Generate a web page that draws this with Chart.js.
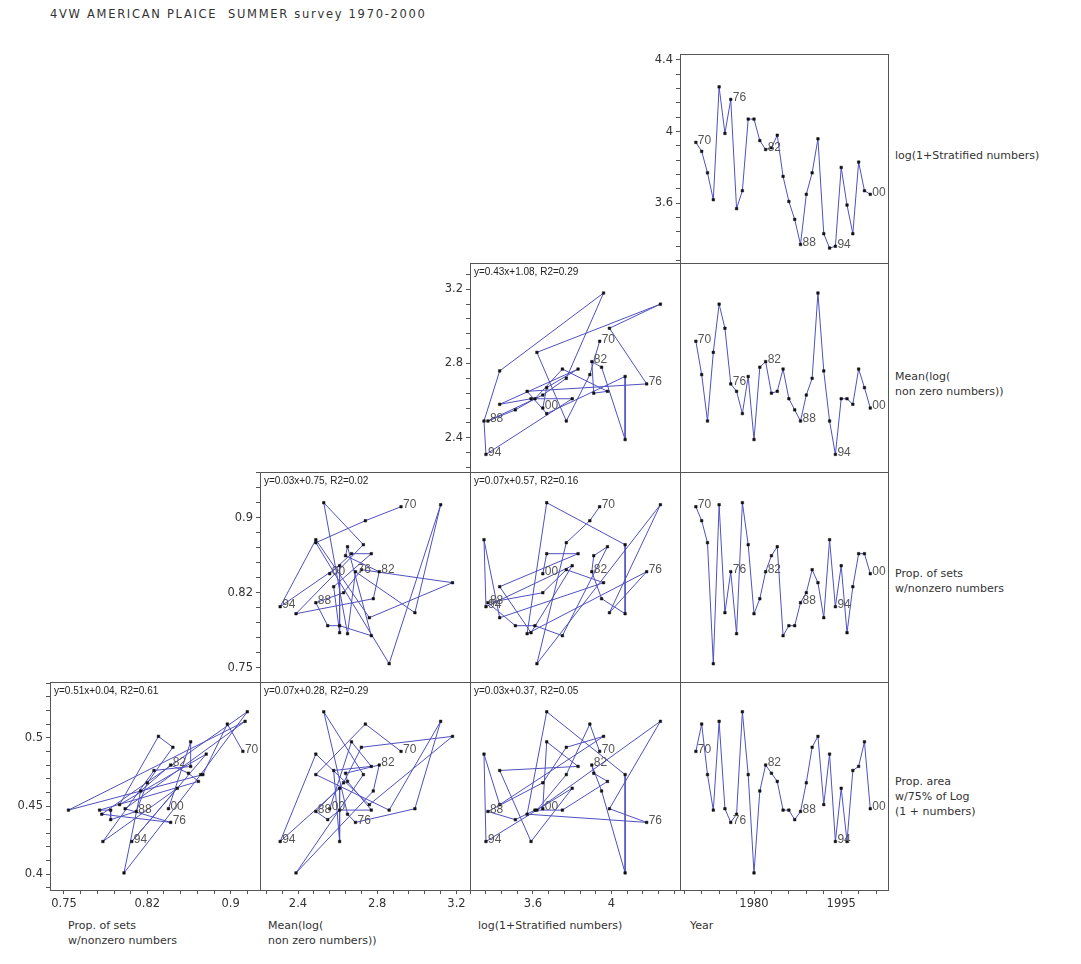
<!DOCTYPE html>
<html><head><meta charset="utf-8">
<script src="https://cdn.jsdelivr.net/npm/chart.js@4.4.1/dist/chart.umd.min.js"></script>
<style>
html,body{margin:0;padding:0;background:#fff;}
body{width:1081px;height:964px;position:relative;overflow:hidden;font-family:"DejaVu Sans",sans-serif;color:#333;}
canvas{position:absolute;}
.t{position:absolute;font-size:11px;line-height:15px;white-space:pre;color:#333;}
#title{font-size:11.5px;letter-spacing:1.7px;top:7px;}
</style></head><body>
<div class="t" id="title" style="left:50px;">4VW AMERICAN PLAICE  SUMMER survey 1970-2000</div>
<div class="t" style="left:68px;top:918px;">Prop. of sets
w/nonzero numbers</div>
<div class="t" style="left:268px;top:918px;">Mean(log(
non zero numbers))</div>
<div class="t" style="left:478px;top:918px;">log(1+Stratified numbers)</div>
<div class="t" style="left:690px;top:918px;">Year</div>
<div class="t" style="left:895px;top:148px;">log(1+Stratified numbers)</div>
<div class="t" style="left:895px;top:369px;">Mean(log(
non zero numbers))</div>
<div class="t" style="left:895px;top:566px;">Prop. of sets
w/nonzero numbers</div>
<div class="t" style="left:895px;top:774px;">Prop. area
w/75% of Log
(1 + numbers)</div>
<script>
// ---------------- DATA ----------------
const years = [1970,1971,1972,1973,1974,1975,1976,1977,1978,1979,1980,1981,1982,1983,1984,1985,1986,1987,1988,1989,1990,1991,1992,1993,1994,1995,1996,1997,1998,1999,2000];
const logStratNumbers = [3.94,3.89,3.77,3.62,4.25,3.99,4.18,3.57,3.67,4.07,4.07,3.95,3.90,3.91,3.98,3.75,3.61,3.51,3.37,3.65,3.77,3.96,3.43,3.35,3.36,3.80,3.59,3.43,3.83,3.67,3.65];
const meanLogNonZero = [2.92,2.74,2.49,2.86,3.12,2.99,2.69,2.65,2.53,2.73,2.39,2.78,2.81,2.64,2.65,2.77,2.61,2.55,2.49,2.63,2.72,3.18,2.76,2.49,2.31,2.61,2.61,2.58,2.77,2.67,2.56];
const propSetsNonZero = [0.911,0.897,0.875,0.754,0.913,0.805,0.846,0.784,0.915,0.873,0.804,0.819,0.846,0.862,0.871,0.782,0.792,0.792,0.815,0.825,0.848,0.835,0.800,0.878,0.811,0.852,0.785,0.831,0.864,0.864,0.844];
const propArea75 = [0.490,0.510,0.473,0.447,0.512,0.448,0.438,0.444,0.519,0.473,0.401,0.461,0.480,0.474,0.468,0.447,0.447,0.440,0.446,0.467,0.493,0.501,0.451,0.488,0.424,0.463,0.424,0.476,0.479,0.497,0.448];
const labelledYears = [1970,1976,1982,1988,1994,2000];

// tick values and labels
const ticksStrat = [3.6,4.0,4.4];       const tickLabelsStrat = ['3.6','4','4.4'];
const ticksMeanLog = [2.4,2.8,3.2];     const tickLabelsMeanLog = ['2.4','2.8','3.2'];
const ticksPropSets = [0.75,0.825,0.9]; const tickLabelsPropSets = ['0.75','0.82','0.9'];
const ticksPropArea = [0.4,0.45,0.5];   const tickLabelsPropArea = ['0.4','0.45','0.5'];
const ticksYear = [1980,1995];          const tickLabelsYear = ['1980','1995'];

// regression annotations (row-col)
const eqText = {
  '3-0':'y=0.51x+0.04, R2=0.61',
  '3-1':'y=0.07x+0.28, R2=0.29',
  '3-2':'y=0.03x+0.37, R2=0.05',
  '2-1':'y=0.03x+0.75, R2=0.02',
  '2-2':'y=0.07x+0.57, R2=0.16',
  '1-2':'y=0.43x+1.08, R2=0.29'
};

// ---------------- AXES (ranges & tick spacing) ----------------
const V = {
  A:{vals:logStratNumbers, majors:ticksStrat, labels:tickLabelsStrat, minor:0.08},
  B:{vals:meanLogNonZero, majors:ticksMeanLog, labels:tickLabelsMeanLog, minor:0.08},
  C:{vals:propSetsNonZero, majors:ticksPropSets, labels:tickLabelsPropSets, minor:0.015},
  D:{vals:propArea75, majors:ticksPropArea, labels:tickLabelsPropArea, minor:0.01},
  Y:{vals:years, majors:ticksYear, labels:tickLabelsYear, minor:3}
};
const rowVars = [
  {v:'A', min:3.2665, max:4.4335},
  {v:'B', min:2.2151, max:3.3418},
  {v:'C', min:0.7357, max:0.9457},
  {v:'D', min:0.3885, max:0.5408}
];
const colVars = [
  {v:'C', min:0.7374, max:0.9264},
  {v:'B', min:2.2082, max:3.2681},
  {v:'A', min:3.2786, max:4.3500},
  {v:'Y', min:1967.27, max:2003.05}
];
const colEdges = [50,260,470,680,888];
const rowEdges = [54,263,472,682,890];

const FONT = '"DejaVu Sans", sans-serif';
const FONT2 = '"Liberation Sans", Arial, sans-serif';
Chart.defaults.font.family = FONT;

function tickValues(def, min, max){
  const m0 = def.majors[0], s = def.minor, out = [];
  const n0 = Math.ceil((min - m0)/s - 1e-9), n1 = Math.floor((max - m0)/s + 1e-9);
  for(let n=n0;n<=n1;n++) out.push(+(m0 + n*s).toFixed(6));
  return out;
}
function axis(role, show, isX){
  const def = V[role.v];
  return {
    type:'linear', min:role.min, max:role.max, display:show,
    afterBuildTicks:s=>{ s.ticks = tickValues(def, role.min, role.max).map(v=>({value:v})); },
    afterFit:s=>{ if(!show){ if(isX) s.height=0; else s.width=0; return; } if(isX) s.height = 40; else s.width = 50; },
    grid:{display:true, drawOnChartArea:false, drawTicks:true, tickLength:4, color:'#555', lineWidth:1},
    border:{display:true, color:'#555'},
    ticks:{autoSkip:false, maxRotation:0, minRotation:0, padding:3, color:'#333', font:{size:11.5, family:FONT},
      callback:(val)=>{ const i = def.majors.findIndex(m=>Math.abs(m-val)<1e-6); return i>=0 ? def.labels[i] : ''; }}
  };
}

const deco = {
  id:'deco',
  afterDatasetsDraw(chart, args, opts){
    const {ctx, chartArea:a, scales} = chart;
    ctx.save();
    ctx.strokeStyle = '#555'; ctx.lineWidth = 1;
    ctx.strokeRect(a.left+0.5, a.top+0.5, a.right-a.left, a.bottom-a.top);
    if(opts.eq){
      ctx.font = '10px '+FONT2; ctx.fillStyle = '#222'; ctx.textBaseline = 'top'; ctx.textAlign='left';
      ctx.fillText(opts.eq, a.left+4, a.top+4);
    }
    ctx.font = '12px '+FONT2; ctx.fillStyle = '#555'; ctx.textBaseline = 'middle'; ctx.textAlign='left';
    const d = chart.data.datasets[0].data;
    years.forEach((yr,i)=>{
      if(labelledYears.includes(yr)){
        const px = scales.x.getPixelForValue(d[i].x), py = scales.y.getPixelForValue(d[i].y);
        ctx.fillText(String(yr).slice(2), px+2, py-2);
      }
    });
    ctx.restore();
  }
};

const T = 12, R = 14, L = 50, B = 40;
for(let r=0;r<4;r++){
  for(let c=3-r;c<4;c++){
    const showY = (c === 3-r), showX = (r === 3);
    const left = colEdges[c]-L, top = rowEdges[r]-T;
    const w = colEdges[c+1]-colEdges[c] + L + R, h = rowEdges[r+1]-rowEdges[r] + T + B;
    const cv = document.createElement('canvas');
    cv.width = w; cv.height = h;
    cv.style.left = left+'px'; cv.style.top = top+'px';
    cv.style.width = w+'px'; cv.style.height = h+'px';
    document.body.appendChild(cv);
    const xs = V[colVars[c].v].vals, ys = V[rowVars[r].v].vals;
    new Chart(cv, {
      type:'scatter',
      data:{datasets:[{
        data: years.map((yr,i)=>({x:xs[i], y:ys[i]})),
        showLine:true, borderColor:'#5050c0', borderWidth:1, tension:0,
        pointRadius:1.8, pointStyle:'rect', pointBackgroundColor:'#111', pointBorderColor:'#111', pointBorderWidth:0.5
      }]},
      options:{
        responsive:false, animation:false, events:[],
        layout:{padding:{left:showY?0:L, right:R, top:T, bottom:showX?0:B}},
        scales:{ x:axis(colVars[c], showX, true), y:axis(rowVars[r], showY, false) },
        plugins:{legend:{display:false}, tooltip:{enabled:false}, deco:{eq:eqText[r+'-'+c]||''}}
      },
      plugins:[deco]
    });
  }
}
</script>
</body></html>
